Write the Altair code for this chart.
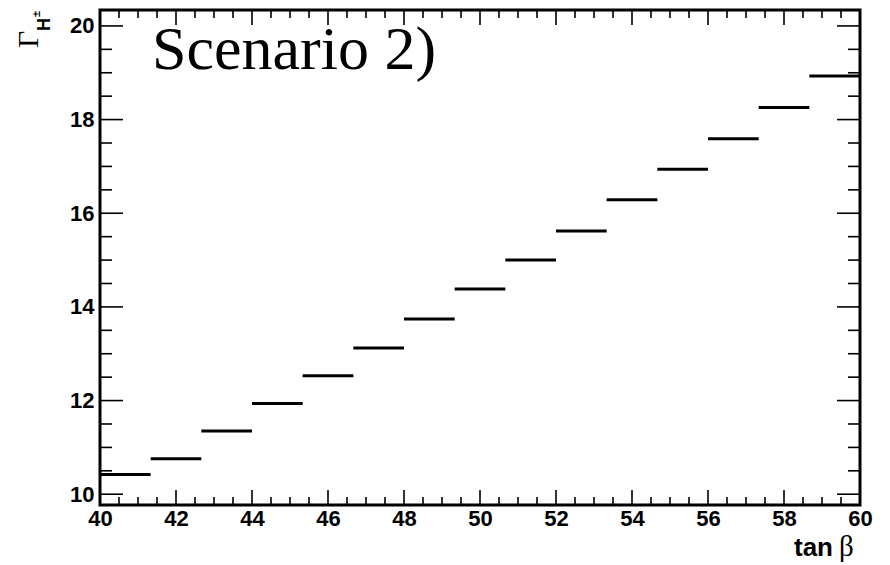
import altair as alt
import pandas as pd

# Histogram contents: charged Higgs width per tan(beta) bin (15 bins over 40..60)
bin_edges = [40.0, 41.333, 42.667, 44.0, 45.333, 46.667, 48.0, 49.333, 50.667,
             52.0, 53.333, 54.667, 56.0, 57.333, 58.667, 60.0]
widths = [10.42, 10.76, 11.35, 11.94, 12.53, 13.12, 13.74, 14.38, 15.00,
          15.62, 16.29, 16.94, 17.59, 18.26, 18.93]

x_major = [40, 42, 44, 46, 48, 50, 52, 54, 56, 58, 60]
x_minor = [v / 2 for v in range(80, 121) if v % 4 != 0]
y_major = [10, 12, 14, 16, 18, 20]
y_minor = [v / 2 for v in range(20, 41) if v % 4 != 0]

X_DOMAIN = [40, 60]
Y_DOMAIN = [9.77, 20.34]
W, H = 760, 495

bins = pd.DataFrame({"x": bin_edges[:-1], "x2": bin_edges[1:], "y": widths})

xs = alt.Scale(domain=X_DOMAIN, nice=False, zero=False)
ys = alt.Scale(domain=Y_DOMAIN, nice=False, zero=False)
lab_font = "Liberation Sans"
xaxis = alt.Axis(values=x_major, ticks=False, domain=False, grid=False, title=None,
                 labelFont=lab_font, labelFontWeight="bold", labelFontSize=22,
                 labelColor="black", labelPadding=3, labelFlush=False)
yaxis = alt.Axis(values=y_major, ticks=False, domain=False, grid=False, title=None,
                 labelFont=lab_font, labelFontWeight="bold", labelFontSize=22,
                 labelColor="black", labelPadding=6)

hist = alt.Chart(bins).mark_rule(color="black", strokeWidth=3).encode(
    x=alt.X("x:Q", scale=xs, axis=xaxis),
    x2="x2:Q",
    y=alt.Y("y:Q", scale=ys, axis=yaxis),
)


def xticks(vals, length):
    df = pd.DataFrame({"x": vals})
    base = alt.Chart(df).mark_rule(color="black", strokeWidth=1.6)
    bottom = base.encode(x=alt.X("x:Q", scale=xs, axis=xaxis),
                         y=alt.value(H), y2=alt.value(H - length))
    top = base.encode(x=alt.X("x:Q", scale=xs, axis=xaxis),
                      y=alt.value(0), y2=alt.value(length))
    return [bottom, top]


def yticks(vals, length):
    df = pd.DataFrame({"y": vals})
    base = alt.Chart(df).mark_rule(color="black", strokeWidth=1.6)
    left = base.encode(y=alt.Y("y:Q", scale=ys, axis=yaxis),
                       x=alt.value(0), x2=alt.value(length))
    right = base.encode(y=alt.Y("y:Q", scale=ys, axis=yaxis),
                        x=alt.value(W), x2=alt.value(W - length))
    return [left, right]


def label(text, x, y, **kw):
    return alt.Chart(pd.DataFrame({"t": [text]})).mark_text(**kw).encode(
        text="t:N", x=alt.value(x), y=alt.value(y))


# Thick frame around the plotting area
frame = alt.Chart(pd.DataFrame({"f": [0]})).mark_rect(
    filled=False, stroke="black", strokeWidth=3
).encode(x=alt.value(0), x2=alt.value(W), y=alt.value(0), y2=alt.value(H))

texts = [
    label("Scenario 2)", 52, 59, font="Liberation Serif", fontSize=62,
          align="left", baseline="alphabetic", color="black"),
    label("tan", 733, 546, font=lab_font, fontWeight="bold", fontSize=26,
          align="right", baseline="alphabetic", color="black"),
    label("β", 739, 546, font="Liberation Serif", fontSize=29,
          align="left", baseline="alphabetic", color="black"),
    label("Γ", -62, 38, font="Liberation Serif", fontSize=30, angle=270,
          align="left", baseline="alphabetic", color="black"),
    label("H", -50, 21, font=lab_font, fontWeight="bold", fontSize=18, angle=270,
          align="left", baseline="alphabetic", color="black"),
    label("±", -60, 7, font=lab_font, fontWeight="bold", fontSize=11, angle=270,
          align="left", baseline="alphabetic", color="black"),
]

chart = alt.layer(
    hist,
    *xticks(x_major, 15), *xticks(x_minor, 8),
    *yticks(y_major, 23), *yticks(y_minor, 12),
    frame,
    *texts,
).properties(
    width=W, height=H,
    autosize="none",
    padding={"left": 100, "top": 10, "right": 30, "bottom": 60},
).configure_view(
    stroke=None, fill="white"
).configure(background="white")

chart.save("out.html", embed_options={"renderer": "svg", "actions": False})
